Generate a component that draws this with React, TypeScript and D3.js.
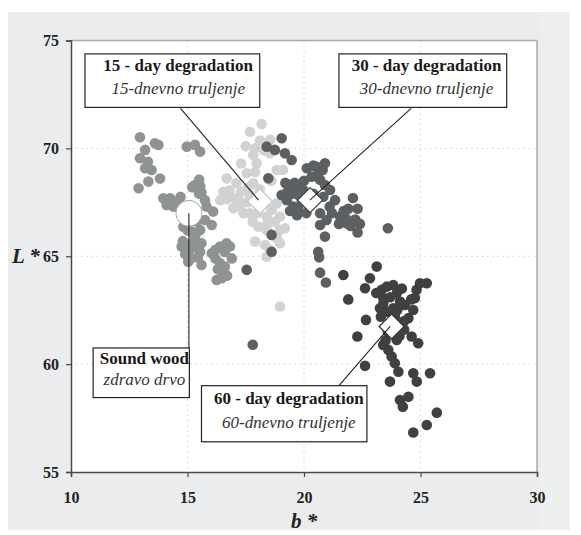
import React, { useEffect, useRef } from 'react';
import * as d3 from 'd3';

type Pt = [number, number]; // [b*, L*]

const xTicks = [10, 15, 20, 25, 30];
const yTicks = [55, 60, 65, 70, 75];

const soundWood: Pt[] = [
  [12.96, 70.51], [13.6, 70.24], [13.75, 70.16], [13.18, 69.93], [12.96, 69.54], [13.3, 69.38],
  [13.18, 69.08], [13.46, 69.0], [13.82, 68.6], [13.32, 68.46], [12.9, 68.15], [14.97, 70.08],
  [15.32, 70.16], [15.54, 69.85], [15.32, 68.3], [15.46, 68.07], [13.96, 67.69], [14.25, 67.69],
  [14.54, 67.53], [14.1, 67.38], [14.4, 67.3], [15.75, 67.6], [15.82, 67.3], [16.1, 67.07],
  [15.75, 66.68], [16.04, 66.45], [14.82, 66.37], [15.18, 66.14], [15.54, 66.22], [14.75, 65.45],
  [15.32, 65.45], [15.54, 65.21], [15.03, 64.75], [15.6, 64.6], [16.04, 65.14], [16.4, 65.45],
  [16.68, 65.6], [16.82, 65.45], [16.4, 64.68], [16.6, 64.52], [16.25, 63.9], [16.47, 63.98],
  [15.32, 65.83], [14.7, 67.75], [15.5, 67.9], [14.9, 66.8], [15.4, 66.6], [15.15, 64.9],
  [16.2, 64.9], [15.2, 65.6], [14.8, 65.7], [16.5, 64.2], [15.55, 68.25], [14.2, 67.5],
  [15.0, 66.2], [15.35, 66.0], [15.1, 65.3], [15.6, 65.6], [14.9, 65.1], [15.45, 64.95],
  [15.2, 68.2], [15.6, 67.95], [15.5, 68.55], [16.2, 65.3], [16.6, 65.2], [16.9, 64.9],
  [16.3, 64.4], [16.7, 64.1]
];

const day15: Pt[] = [
  [17.68, 70.77], [18.18, 71.13], [18.11, 70.36], [18.55, 70.4], [17.82, 69.69], [17.97, 69.31],
  [18.54, 69.77], [18.83, 69.0], [19.1, 69.0], [16.68, 68.61], [17.54, 68.85], [16.54, 67.99],
  [16.8, 68.05], [16.4, 67.6], [16.7, 67.65], [17.04, 67.69], [17.25, 67.3], [16.97, 67.22],
  [17.68, 66.99], [17.4, 66.99], [17.82, 68.38], [18.1, 68.1], [17.68, 67.84], [18.61, 67.15],
  [18.83, 67.45], [18.97, 66.84], [18.4, 66.84], [18.04, 66.37], [18.4, 66.45], [18.97, 66.22],
  [19.18, 66.3], [18.83, 65.83], [18.97, 65.6], [17.9, 65.68], [18.33, 65.52], [18.54, 65.29],
  [18.4, 64.98], [18.97, 62.67], [17.9, 68.9], [18.3, 69.9], [18.6, 68.5], [17.3, 68.0],
  [18.0, 67.0], [18.75, 66.6], [17.6, 67.5], [17.5, 70.1], [17.9, 70.0], [17.3, 69.3],
  [17.1, 68.4], [17.6, 68.2], [17.2, 67.6], [18.4, 66.2], [17.8, 66.6]
];

const day30: Pt[] = [
  [18.47, 68.61], [18.4, 70.08], [19.04, 70.47], [18.75, 69.93], [19.18, 69.77], [19.47, 69.46],
  [19.4, 68.3], [19.69, 68.23], [19.97, 68.07], [19.04, 67.84], [19.26, 67.6], [19.54, 67.3],
  [19.76, 67.15], [20.12, 69.08], [20.55, 69.15], [20.9, 69.31], [20.33, 68.69], [20.69, 68.54],
  [20.83, 67.76], [21.12, 68.07], [21.33, 67.6], [20.69, 66.99], [20.97, 66.68], [20.69, 66.45],
  [21.55, 66.84], [21.83, 66.53], [18.61, 65.99], [18.61, 65.21], [17.54, 64.37], [20.9, 65.91],
  [20.61, 65.21], [20.65, 64.95], [20.69, 64.24], [20.94, 63.78], [21.7, 67.1], [21.8, 66.75],
  [22.0, 66.4], [22.3, 66.1], [22.4, 66.5], [22.3, 67.2], [22.1, 67.7], [23.6, 66.3],
  [17.8, 60.9], [19.6, 68.4], [19.3, 68.0], [20.4, 67.9], [20.9, 68.3], [21.1, 67.3],
  [20.0, 68.5], [19.8, 67.8], [19.2, 68.4], [19.5, 67.9], [19.9, 67.5], [19.4, 67.1],
  [19.7, 66.9], [20.1, 67.0], [20.4, 69.2], [20.8, 69.0], [20.6, 68.8], [21.2, 67.0],
  [21.5, 66.5], [21.9, 67.2], [22.2, 66.7]
];

const day60: Pt[] = [
  [23.12, 64.52], [21.69, 64.13], [22.83, 63.98], [22.62, 63.52], [21.9, 63.0], [23.33, 63.44],
  [23.55, 63.59], [23.83, 63.67], [23.98, 63.29], [23.4, 63.06], [23.7, 63.1], [24.12, 62.9],
  [24.33, 62.74], [23.26, 62.59], [23.55, 62.43], [23.83, 62.59], [24.0, 62.5], [24.83, 63.44],
  [24.98, 63.75], [25.27, 63.75], [24.76, 63.06], [24.69, 62.51], [24.48, 62.13], [22.66, 62.05],
  [22.29, 61.28], [23.4, 60.89], [23.62, 60.66], [23.98, 61.12], [24.1, 61.3], [24.62, 61.28],
  [24.9, 60.97], [23.76, 60.35], [23.9, 60.04], [24.05, 59.65], [22.62, 59.92], [23.69, 59.19],
  [24.69, 59.58], [24.84, 59.19], [25.41, 59.58], [24.12, 58.34], [24.24, 58.03], [24.48, 58.49],
  [25.27, 57.18], [25.7, 57.75], [24.69, 56.83], [23.3, 62.2], [23.5, 61.1], [24.3, 62.0],
  [23.1, 63.3], [24.6, 63.0], [23.4, 62.8], [23.9, 62.2], [24.2, 63.5], [23.6, 61.5],
  [24.3, 61.6]
];

// group means
const means = {
  sound: [15.06, 66.99] as Pt,
  day15: [18.11, 67.55] as Pt,
  day30: [20.26, 67.6] as Pt,
  day60: [23.76, 61.74] as Pt
};

const seriesColors = ['#909394', '#d0d2d3', '#5d6062', '#3e4042'];
const serif = "'Liberation Serif', 'Times New Roman', serif";

const App: React.FC = () => {
  const chartRef = useRef<SVGSVGElement | null>(null);

  useEffect(() => {
    const svg = d3.select(chartRef.current);
    svg.selectAll('*').remove();

    const left = 71, right = 537, top = 40.5, bottom = 472;
    const x = d3.scaleLinear().domain([10, 30]).range([left, right]);
    const y = d3.scaleLinear().domain([55, 75]).range([bottom, top]);

    svg.append('rect')
      .attr('x', 8).attr('y', 12).attr('width', 562).attr('height', 518)
      .attr('fill', '#ebeced');
    svg.append('rect')
      .attr('x', 541).attr('y', 12).attr('width', 29).attr('height', 518)
      .attr('fill', '#eeefef');

    svg.append('rect')
      .attr('x', left).attr('y', top)
      .attr('width', right - left).attr('height', bottom - top)
      .attr('fill', '#fff');

    // grid
    const grid = svg.append('g').attr('stroke', '#c4c4c4').attr('stroke-dasharray', '1.2,4');
    yTicks.filter(t => t > 55 && t < 75).forEach(t => {
      grid.append('line').attr('x1', left).attr('x2', right).attr('y1', y(t)).attr('y2', y(t));
    });
    xTicks.filter(t => t > 10 && t < 30).forEach(t => {
      grid.append('line').attr('y1', top).attr('y2', bottom).attr('x1', x(t)).attr('x2', x(t));
    });

    // top / right frame
    svg.append('path')
      .attr('d', `M${left},${top}H${right}V${bottom}`)
      .attr('fill', 'none').attr('stroke', '#a9abac').attr('stroke-width', 1.5);

    // axes
    const ax = svg.append('g')
      .attr('transform', `translate(0,${bottom})`)
      .call(d3.axisBottom(x).tickValues(xTicks).tickSize(5).tickPadding(15));
    const ay = svg.append('g')
      .attr('transform', `translate(${left},0)`)
      .call(d3.axisLeft(y).tickValues(yTicks).tickSize(5).tickPadding(7));
    [ax, ay].forEach(a => {
      a.attr('font-family', serif);
      a.select('.domain').attr('stroke', '#4a4a4a').attr('stroke-width', 1.5);
      a.selectAll('.tick line').attr('stroke', '#4a4a4a').attr('stroke-width', 1.2);
      a.selectAll('text')
        .style('font-family', serif)
        .attr('font-weight', 'bold')
        .attr('font-size', 16)
        .attr('fill', '#222');
    });

    svg.append('text')
      .attr('x', x(20)).attr('y', 528)
      .attr('text-anchor', 'middle')
      .style('font-family', serif)
      .attr('font-weight', 'bold').attr('font-style', 'italic')
      .attr('font-size', 21).attr('fill', '#222')
      .text('b *');
    svg.append('text')
      .attr('x', 12).attr('y', y(65) + 7)
      .style('font-family', serif)
      .attr('font-weight', 'bold').attr('font-style', 'italic')
      .attr('font-size', 21).attr('fill', '#222')
      .text('L *');

    // points
    [soundWood, day15, day30, day60].forEach((s, i) => {
      svg.append('g').selectAll('circle')
        .data(s)
        .enter().append('circle')
        .attr('cx', d => x(d[0]))
        .attr('cy', d => y(d[1]))
        .attr('r', 5.3)
        .attr('fill', seriesColors[i]);
    });

    // annotations: leader lines
    const leaders: [Pt, Pt][] = [
      [[14.7, 71.85], [18.05, 67.6]],
      [[24.6, 71.85], [20.25, 67.6]],
      [[15.06, 66.99], [15.06, 60.75]],
      [[21.5, 59.0], [23.7, 61.75]]
    ];

    // means
    svg.append('circle')
      .attr('cx', x(means.sound[0])).attr('cy', y(means.sound[1])).attr('r', 13)
      .attr('fill', '#fff').attr('stroke', '#a2a5a6').attr('stroke-width', 1);
    const diamond = (p: Pt, stroke: string) => {
      const cx = x(p[0]), cy = y(p[1]), h = 12.5;
      svg.append('path')
        .attr('d', `M${cx},${cy - h}L${cx + h},${cy}L${cx},${cy + h}L${cx - h},${cy}Z`)
        .attr('fill', '#fff').attr('stroke', stroke).attr('stroke-width', 1.3);
    };
    diamond(means.day15, '#c6c8c9');
    diamond(means.day30, '#444');
    diamond(means.day60, '#333');

    leaders.forEach(([a, b]) => {
      svg.append('line')
        .attr('x1', x(a[0])).attr('y1', y(a[1]))
        .attr('x2', x(b[0])).attr('y2', y(b[1]))
        .attr('stroke', '#222').attr('stroke-width', 1.1);
    });

    // label boxes [b0, b1, Ltop, Lbottom, textCenterB]
    const boxes: { r: [number, number, number, number, number]; t1: string; t2: string }[] = [
      { r: [10.6, 18.1, 74.38, 71.9, 14.6], t1: '15 - day degradation', t2: '15-dnevno truljenje' },
      { r: [21.5, 28.7, 74.38, 71.9, 25.26], t1: '30 - day degradation', t2: '30-dnevno truljenje' },
      { r: [10.95, 15.08, 60.75, 58.45, 13.15], t1: 'Sound wood', t2: 'zdravo drvo' },
      { r: [15.6, 22.7, 59.0, 56.4, 19.35], t1: '60 - day degradation', t2: '60-dnevno truljenje' }
    ];
    boxes.forEach(bx => {
      const [b0, b1, l0, l1, tc] = bx.r;
      const g = svg.append('g');
      g.append('rect')
        .attr('x', x(b0)).attr('y', y(l0))
        .attr('width', x(b1) - x(b0)).attr('height', y(l1) - y(l0))
        .attr('fill', '#fff').attr('stroke', '#222').attr('stroke-width', 1.2);
      const hgt = y(l1) - y(l0);
      g.append('text')
        .attr('x', x(tc)).attr('y', y(l0) + hgt * 0.32)
        .attr('text-anchor', 'middle')
        .style('font-family', serif)
        .attr('font-weight', 'bold').attr('font-size', 17).attr('fill', '#1a1a1a')
        .text(bx.t1);
      g.append('text')
        .attr('x', x(tc)).attr('y', y(l0) + hgt * 0.75)
        .attr('text-anchor', 'middle')
        .style('font-family', serif)
        .attr('font-style', 'italic').attr('font-size', 17).attr('fill', '#333')
        .text(bx.t2);
    });
  }, []);

  return (
    <svg ref={chartRef} width="581" height="535"
      style={{ position: 'absolute', left: 0, top: 0, display: 'block' }}></svg>
  );
};

export default App;
